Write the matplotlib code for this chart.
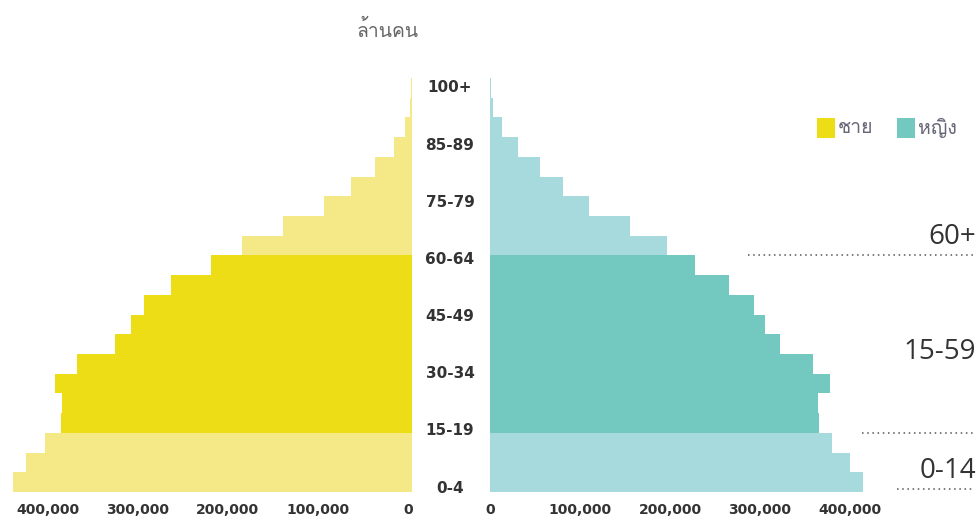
import numpy as np
import matplotlib
matplotlib.use('Agg')
import matplotlib.pyplot as plt
import matplotlib.transforms as mtransforms
from matplotlib import font_manager
from matplotlib.patches import Rectangle
from matplotlib.ticker import FuncFormatter
from fontTools.ttLib import TTFont

# age groups, bottom to top
ages = ['0-4', '5-9', '10-14', '15-19', '20-24', '25-29', '30-34', '35-39',
        '40-44', '45-49', '50-54', '55-59', '60-64', '65-69', '70-74',
        '75-79', '80-84', '85-89', '90-94', '95-99', '100+']
male = [443000, 428000, 407000, 390000, 388000, 396000, 372000, 330000,
        312000, 297000, 267000, 223000, 188000, 143000, 97000, 67000,
        41000, 20000, 7000, 2000, 1000]
female = [414000, 400000, 380000, 365000, 364000, 378000, 359000, 322000,
          305000, 293000, 266000, 228000, 197000, 156000, 110000, 81000,
          56000, 31000, 13000, 3000, 1500]
# broad band each age group belongs to
band = ['0-14'] * 3 + ['15-59'] * 9 + ['60+'] * 9

age_ticks = ['0-4', '15-19', '30-34', '45-49', '60-64', '75-79', '85-89', '100+']
x_ticks = [0, 100000, 200000, 300000, 400000]


def find_thai_font():
    # first installed family with Thai glyphs (U+0E0A)
    for f in font_manager.fontManager.ttflist:
        try:
            cmap = TTFont(f.fname, fontNumber=0, lazy=True).getBestCmap()
        except Exception:
            continue
        if cmap and 0x0E0A in cmap:
            return f.name
    return 'DejaVu Sans'


thai = [find_thai_font(), 'DejaVu Sans']

male_col = {'0-14': '#f5e987', '15-59': '#eddd17', '60+': '#f5e987'}
female_col = {'0-14': '#a7dadc', '15-59': '#73c8c0', '60+': '#a7dadc'}

W, H = 980, 520
fig = plt.figure(figsize=(W / 100, H / 100), dpi=100)

def fx(px):
    return px / W

def fy(py):
    return 1 - py / H

axL = fig.add_axes([fx(2), fy(492), fx(409.7), 414 / H])
axR = fig.add_axes([fx(490), fy(492), fx(450), 414 / H])

y = np.arange(len(ages))
axL.barh(y, male, height=1.0, color=[male_col[b] for b in band], linewidth=0)
axR.barh(y, female, height=1.0, color=[female_col[b] for b in band], linewidth=0)

axL.set_xlim(455200, 0)
axR.set_xlim(0, 500000)

fmt = FuncFormatter(lambda v, p: f'{int(v):,}')
for ax in (axL, axR):
    ax.set_ylim(-0.5, 20.5)
    ax.set_yticks([])
    ax.set_xticks(x_ticks)
    ax.xaxis.set_major_formatter(fmt)
    ax.tick_params(axis='x', length=0, pad=8, labelsize=10, labelcolor='#333333')
    for lab in ax.get_xticklabels():
        lab.set_fontweight('bold')
    for s in ax.spines.values():
        s.set_visible(False)
    ax.patch.set_visible(False)

# nudge the left tick labels a little
shift = mtransforms.ScaledTranslation(-4 / 100, 0, fig.dpi_scale_trans)
for lab in axL.get_xticklabels():
    lab.set_transform(lab.get_transform() + shift)

# age labels in the gap between the two halves
tr = mtransforms.blended_transform_factory(fig.transFigure, axL.transData)
for pos, lab in zip(np.linspace(-0.3, 20, len(age_ticks)), age_ticks):
    fig.text(fx(450), pos, lab, transform=tr, ha='center', va='center',
             fontsize=11, fontweight='bold', color='#333333')

# dotted separators for the broad age bands
for x0, x1, yy in [(748, 973, 11.5), (862, 973, 2.5), (897, 973, -0.35)]:
    fig.add_artist(plt.Line2D([fx(x0), fx(x1)], [yy, yy], transform=tr,
                              color='#555555', lw=1.1, linestyle=(0, (1, 2.4))))

for txt, yy in [('60+', 237), ('15-59', 352), ('0-14', 471)]:
    fig.text(fx(976), fy(yy), txt, ha='right', va='center', fontsize=20,
             family='Open Sans', color='#333333')

fig.text(fx(388), fy(30), 'ล้านคน', ha='center', va='center',
         fontsize=14, family=thai, color='#666666')

# legend
for x0, col, lab in [(817, '#eddd17', 'ชาย'), (897, '#73c8c0', 'หญิง')]:
    fig.add_artist(Rectangle((fx(x0), fy(138)), fx(18), 20 / H,
                             transform=fig.transFigure, color=col, lw=0))
    fig.text(fx(x0 + 21), fy(128), lab, ha='left', va='center',
             fontsize=14, family=thai, color='#666677')

fig.savefig('out.png', dpi=100)
